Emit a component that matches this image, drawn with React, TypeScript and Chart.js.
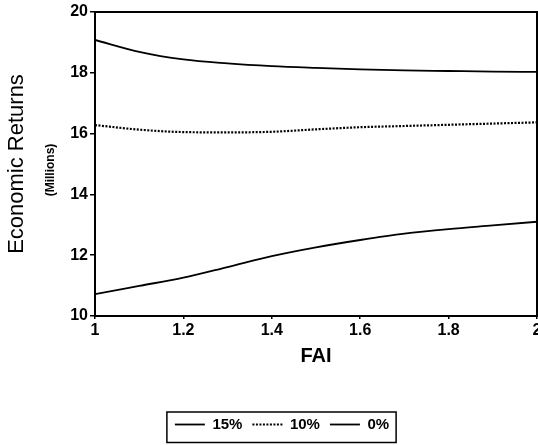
import React, { useEffect, useRef } from "react";
import { Chart, registerables } from "chart.js";

Chart.register(...registerables);

const faiValues = [1.0, 1.1, 1.2, 1.3, 1.4, 1.5, 1.6, 1.7, 1.8, 1.9, 2.0];
const returns15 = [19.08, 18.69, 18.44, 18.31, 18.22, 18.16, 18.11, 18.08, 18.06, 18.04, 18.03];
const returns10 = [16.28, 16.13, 16.05, 16.04, 16.06, 16.14, 16.21, 16.25, 16.29, 16.33, 16.37];
const returns0 = [10.72, 10.99, 11.26, 11.61, 11.97, 12.26, 12.5, 12.71, 12.86, 12.98, 13.1];
const seriesLabels = ["15%", "10%", "0%"];
const xAxisTitle = "FAI";
const yAxisTitle = "Economic Returns";
const yAxisSubtitle = "(Millions)";

const FONT = "'Liberation Sans', Arial, Helvetica, sans-serif";

const toPoints = (ys: number[]) => faiValues.map((x, i) => ({ x, y: ys[i] }));

const framePlugin = {
  id: "frame",
  afterDraw(chart: any) {
    const { ctx, chartArea } = chart;
    ctx.save();
    ctx.strokeStyle = "#000";
    ctx.lineWidth = 2;
    ctx.strokeRect(chartArea.left, chartArea.top, chartArea.right - chartArea.left, chartArea.bottom - chartArea.top);
    ctx.fillStyle = "#000";
    ctx.font = `bold 12px ${FONT}`;
    ctx.translate(chartArea.left - 44, (chartArea.top + chartArea.bottom) / 2 + 6);
    ctx.rotate(-Math.PI / 2);
    ctx.textAlign = "center";
    ctx.textBaseline = "middle";
    ctx.fillText(yAxisSubtitle, 0, 0);
    ctx.restore();

    const legend = chart.legend;
    if (legend && legend.legendHitBoxes && legend.legendHitBoxes.length) {
      const hb = legend.legendHitBoxes;
      const first = hb[0];
      const last = hb[hb.length - 1];
      const cy = first.top + first.height / 2;
      const left = first.left - 8;
      const right = last.left + last.width + 7;
      ctx.save();
      ctx.strokeStyle = "#000";
      ctx.lineWidth = 1.5;
      ctx.strokeRect(left, cy - 12.5, right - left, 30.5);
      ctx.restore();
    }
  },
};

export default function App() {
  const ref = useRef<HTMLCanvasElement | null>(null);

  useEffect(() => {
    if (!ref.current) return;
    const chart = new Chart(ref.current, {
      type: "line",
      data: {
        datasets: [
          {
            label: seriesLabels[0],
            data: toPoints(returns15),
            borderColor: "#000",
            borderWidth: 1.8,
            pointRadius: 0,
            cubicInterpolationMode: "monotone",
            fill: false,
          },
          {
            label: seriesLabels[1],
            data: toPoints(returns10),
            borderColor: "#000",
            borderWidth: 2.2,
            borderDash: [2, 1.5],
            pointRadius: 0,
            cubicInterpolationMode: "monotone",
            fill: false,
          },
          {
            label: seriesLabels[2],
            data: toPoints(returns0),
            borderColor: "#000",
            borderWidth: 1.8,
            pointRadius: 0,
            cubicInterpolationMode: "monotone",
            fill: false,
          },
        ],
      },
      options: {
        responsive: false,
        animation: false,
        events: [],
        layout: { padding: { left: 27, right: 13, top: 12, bottom: 3 } },
        scales: {
          x: {
            type: "linear",
            min: 1,
            max: 2,
            ticks: {
              stepSize: 0.2,
              color: "#000",
              font: { family: FONT, size: 16, weight: "bold" },
              padding: 2,
              maxRotation: 0,
              callback: (v: any) => String(Number(Number(v).toFixed(1))),
            },
            grid: { display: true, drawOnChartArea: false, drawTicks: true, tickLength: 3, color: "#000", lineWidth: 1.5 },
            border: { display: true, color: "#000", width: 2 },
            title: {
              display: true,
              text: xAxisTitle,
              color: "#000",
              font: { family: FONT, size: 20, weight: "bold" },
              padding: { top: 0, bottom: 39 },
            },
            afterFit: (scale: any) => {
              scale.height = 91;
            },
          },
          y: {
            type: "linear",
            min: 10,
            max: 20,
            ticks: {
              stepSize: 2,
              color: "#000",
              font: { family: FONT, size: 16, weight: "bold" },
              padding: 2,
            },
            grid: { display: true, drawOnChartArea: false, drawTicks: true, tickLength: 5, color: "#000", lineWidth: 1.5 },
            border: { display: true, color: "#000", width: 2 },
            title: {
              display: true,
              text: yAxisTitle,
              color: "#000",
              font: { family: FONT, size: 22, weight: "normal" },
              padding: { top: -23, bottom: 0 },
            },
            afterFit: (scale: any) => {
              scale.width = 68;
            },
          },
        },
        plugins: {
          legend: {
            display: true,
            position: "bottom",
            labels: {
              usePointStyle: true,
              pointStyle: "line",
              pointStyleWidth: 30,
              boxWidth: 30,
              padding: 10,
              color: "#000",
              font: { family: FONT, size: 15, weight: "bold" },
              generateLabels: (ch: any) => {
                const items = Chart.defaults.plugins.legend.labels.generateLabels(ch);
                return items.map((it: any) => {
                  const ds: any = ch.data.datasets[it.datasetIndex];
                  return {
                    ...it,
                    lineDash: ds.borderDash || [],
                    lineWidth: ds.borderWidth,
                    strokeStyle: ds.borderColor,
                    pointStyle: "line",
                  };
                });
              },
            },
          },
          tooltip: { enabled: false },
        },
      } as any,
      plugins: [framePlugin],
    });
    return () => chart.destroy();
  }, []);

  return (
    <div style={{ position: "absolute", left: 0, top: 0, width: 538, height: 445, overflow: "hidden", background: "#fff" }}>
      <canvas ref={ref} width={550} height={445} style={{ display: "block" }} />
    </div>
  );
}
